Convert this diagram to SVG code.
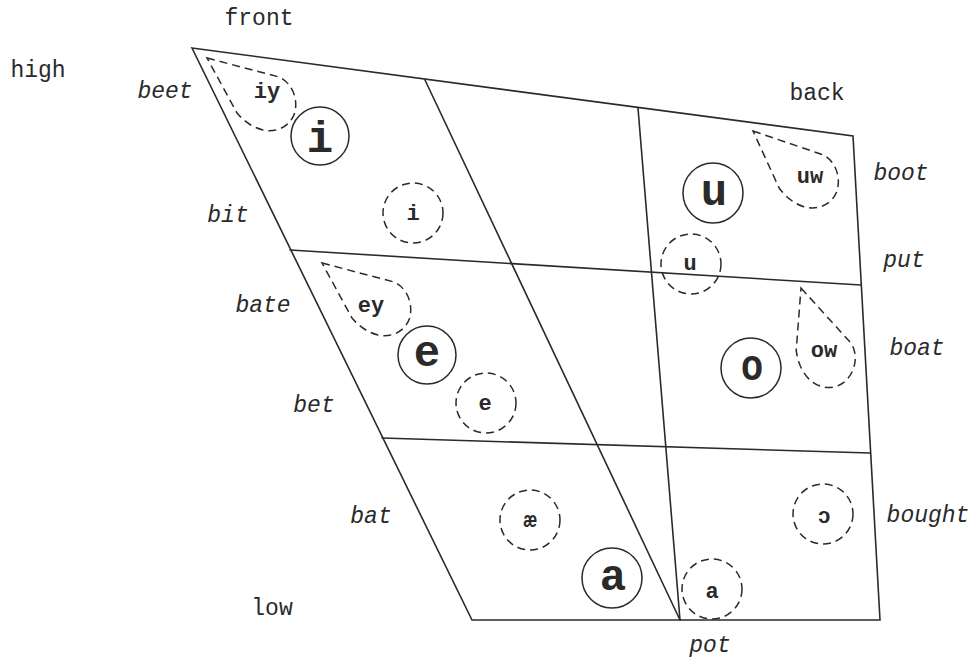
<svg xmlns="http://www.w3.org/2000/svg" xmlns:xlink="http://www.w3.org/1999/xlink" width="975" height="661" viewBox="0 0 975 661">
<style>
.ln{fill:none;stroke:#2a2a2a;stroke-width:1.6;stroke-linecap:round}
.sol{fill:none;stroke:#2a2a2a;stroke-width:1.5}
.dsh{fill:none;stroke:#2a2a2a;stroke-width:1.5;stroke-dasharray:8 5}
.lab{font-family:"Liberation Mono",monospace;font-size:23px;fill:#2a2a2a}
.it{font-style:italic}
.big{font-family:"Liberation Mono",monospace;font-size:44px;font-weight:bold;fill:#2a2a2a;text-anchor:middle}
.sm{font-family:"Liberation Mono",monospace;font-size:22px;font-weight:bold;fill:#2a2a2a;text-anchor:middle}
</style>
<defs>
<path id="drop" d="M0,0 L72,19 C85,25 91,40 88,54 C84,68 70,75 56,72 C44,69 36,62 30,55 Z"/>
</defs>
<rect width="975" height="661" fill="#ffffff"/>
<g id="chart-lines">
<polygon class="ln" points="192,48 853,136 880,620 472,620"/>
<line class="ln" x1="425" y1="80" x2="680" y2="620"/>
<line class="ln" x1="638" y1="108" x2="680" y2="620"/>
<line class="ln" x1="290" y1="250" x2="861" y2="285"/>
<line class="ln" x1="382" y1="438" x2="870" y2="453"/>
</g>
<g id="axis-labels">
<text class="lab" x="259" y="25" text-anchor="middle">front</text>
<text class="lab" x="38" y="77" text-anchor="middle">high</text>
<text class="lab" x="272" y="615" text-anchor="middle">low</text>
<text class="lab" x="817" y="100" text-anchor="middle">back</text>
</g>
<g id="word-labels">
<text class="lab it" x="165" y="98" text-anchor="middle">beet</text>
<text class="lab it" x="228" y="222" text-anchor="middle">bit</text>
<text class="lab it" x="263" y="312" text-anchor="middle">bate</text>
<text class="lab it" x="314" y="412" text-anchor="middle">bet</text>
<text class="lab it" x="371" y="523" text-anchor="middle">bat</text>
<text class="lab it" x="710" y="652" text-anchor="middle">pot</text>
<text class="lab it" x="928" y="522" text-anchor="middle">bought</text>
<text class="lab it" x="917" y="355" text-anchor="middle">boat</text>
<text class="lab it" x="904" y="267" text-anchor="middle">put</text>
<text class="lab it" x="901" y="180" text-anchor="middle">boot</text>
</g>
<g id="node-iy"><use xlink:href="#drop" class="dsh" transform="translate(207,58)"/><text class="sm" x="267" y="98">iy</text></g>
<g id="node-i"><circle class="sol" cx="320" cy="136" r="29"/><text class="big" x="320" y="152">i</text></g>
<g id="node-i-lax"><circle class="dsh" cx="413" cy="213" r="30"/><text class="sm" x="413" y="220">i</text></g>
<g id="node-ey"><use xlink:href="#drop" class="dsh" transform="translate(322,263)"/><text class="sm" x="371" y="312">ey</text></g>
<g id="node-e"><circle class="sol" cx="427" cy="355" r="29"/><text class="big" x="427" y="366">e</text></g>
<g id="node-e-lax"><circle class="dsh" cx="486" cy="403" r="30"/><text class="sm" x="485" y="410">e</text></g>
<g id="node-ae"><circle class="dsh" cx="530" cy="520" r="30"/><text class="sm" x="530" y="527">æ</text></g>
<g id="node-a"><circle class="sol" cx="612" cy="578" r="30"/><text class="big" x="613" y="590">a</text></g>
<g id="node-a-lax"><circle class="dsh" cx="712" cy="589" r="30"/><text class="sm" x="712" y="598">a</text></g>
<g id="node-open-o"><circle class="dsh" cx="823" cy="514" r="30"/><text class="sm" x="824" y="523">ɔ</text></g>
<g id="node-o"><circle class="sol" cx="751" cy="368" r="30"/><text class="big" x="752" y="380" style="font-size:36px">O</text></g>
<g id="node-ow"><use xlink:href="#drop" class="dsh" transform="translate(801,288) rotate(33)"/><text class="sm" x="824" y="357">ow</text></g>
<g id="node-uw"><use xlink:href="#drop" class="dsh" transform="translate(753,131) rotate(4)"/><text class="sm" x="810" y="183">uw</text></g>
<g id="node-u"><circle class="sol" cx="713" cy="193" r="30"/><text class="big" x="714" y="205">u</text></g>
<g id="node-u-lax"><circle class="dsh" cx="691" cy="264" r="30"/><text class="sm" x="690" y="270">u</text></g>
</svg>
